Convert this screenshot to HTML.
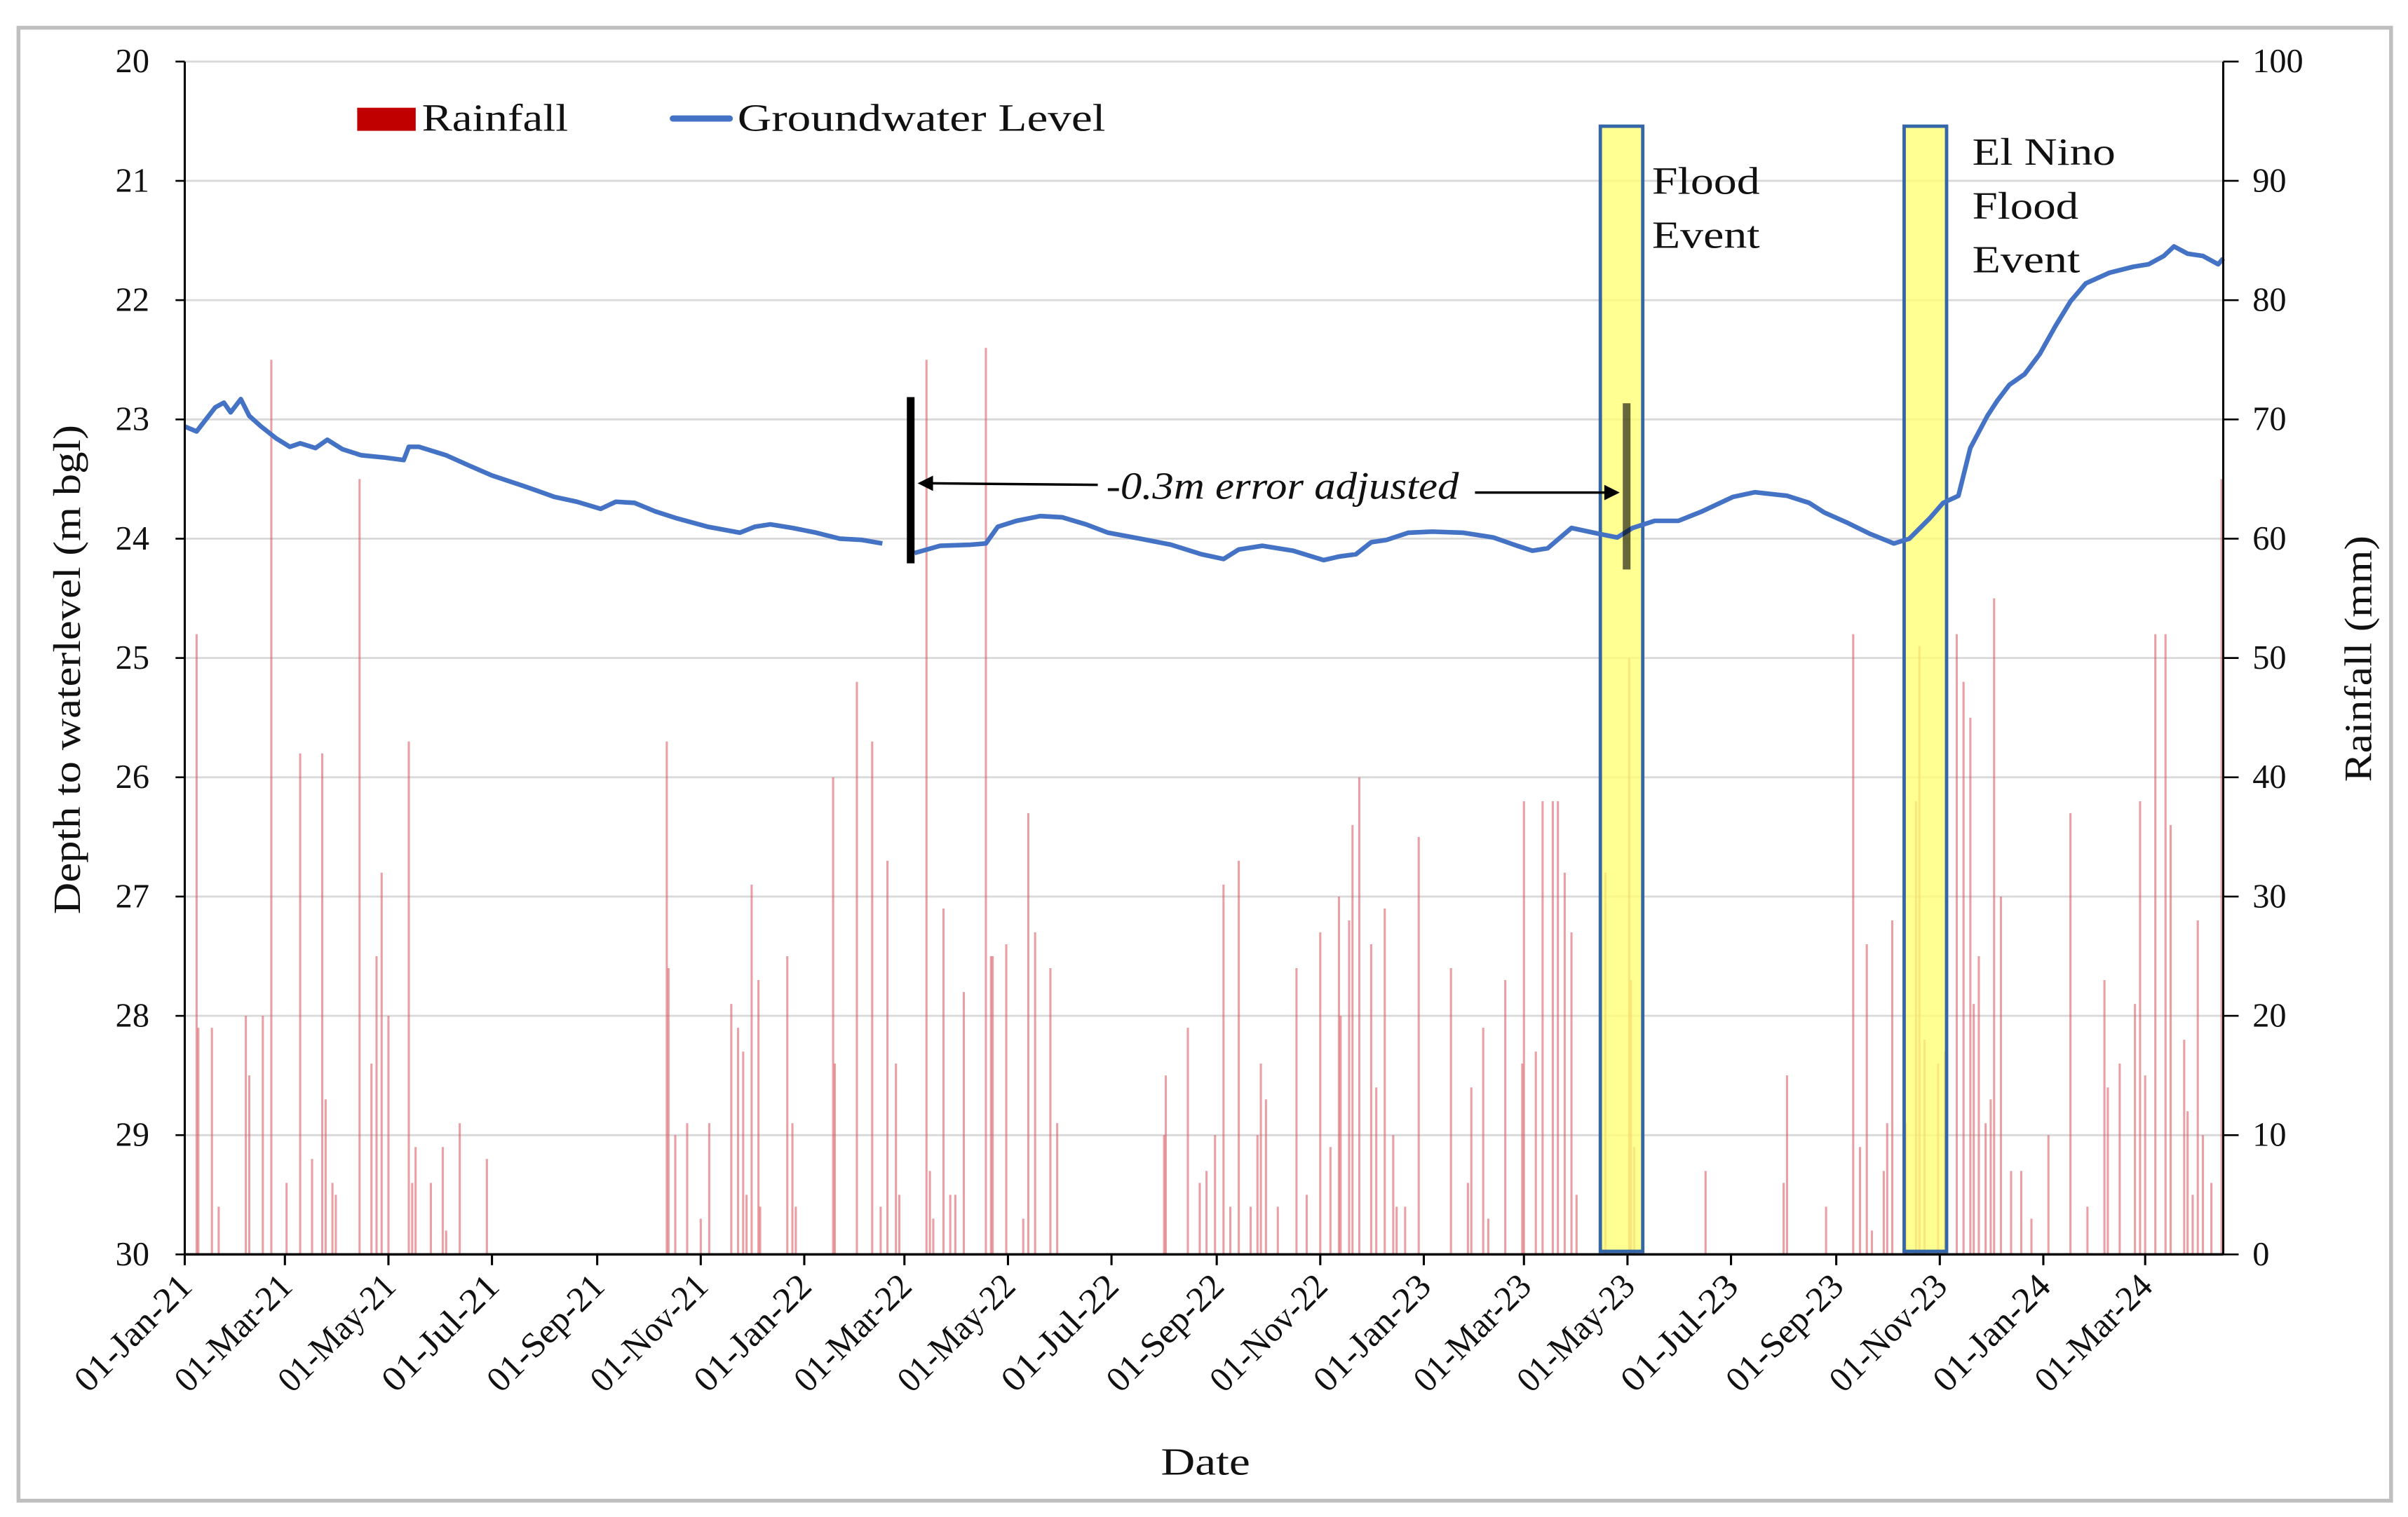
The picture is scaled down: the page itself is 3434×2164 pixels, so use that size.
<!DOCTYPE html>
<html><head><meta charset="utf-8"><style>
html,body{margin:0;padding:0;background:#fff}
svg{display:block}
text{font-family:"Liberation Serif",serif;fill:#111}
</style></head><body>
<svg id="chart" width="3434" height="2164" viewBox="0 0 1564 985.6" preserveAspectRatio="none" xmlns="http://www.w3.org/2000/svg">
<rect x="12" y="18" width="1541" height="957" fill="#fff" stroke="#bfbfbf" stroke-width="2.5"/>
<g id="grid"></g>
<g id="rain"></g>
<g id="boxes"></g>
<g id="gw"></g>
<g id="axes"></g>
<g id="annot"></g>
</svg>
<script>
// Days since 01-Jan-2021 and depth (m bgl)
const gwDays=[0,7,18,23,27,33,38,45,54,62,68,77,84,93,104,118,129,132,138,154,168,181,200,218,231,245,254,265,277,290,308,327,336,345,358,372,386,399,411,
430,445,463,472,479,490,504,517,531,544,563,581,599,612,621,635,653,671,680,690,699,708,721,735,753,771,785,794,803,817,830,844,853,866,880,894,912,925,944,957,966,980,993,1007,1016,1028,1036,1045,1052,1062,1068,1075,1084,1093,1102,1111,1120,1134,1148,1157,1166,1172,1180,1189,1198,1201];
const gwDepth=[23.06,23.10,22.90,22.86,22.94,22.83,22.97,23.06,23.16,23.23,23.20,23.24,23.17,23.25,23.30,23.32,23.34,23.23,23.23,23.30,23.39,23.47,23.56,23.65,23.69,23.75,23.69,23.70,23.77,23.83,23.90,23.95,23.90,23.88,23.91,23.95,24.00,24.01,24.04,
24.12,24.06,24.05,24.04,23.90,23.85,23.81,23.82,23.88,23.95,24.00,24.05,24.13,24.17,24.09,24.06,24.10,24.18,24.15,24.13,24.03,24.01,23.95,23.94,23.95,23.99,24.06,24.10,24.08,23.91,23.95,23.99,23.91,23.85,23.85,23.77,23.65,23.61,23.64,23.70,23.78,23.87,23.96,24.04,24.00,23.83,23.70,23.64,23.24,22.97,22.84,22.71,22.62,22.45,22.22,22.01,21.86,21.77,21.72,21.70,21.63,21.55,21.61,21.63,21.70,21.65];
const gwBreakAfter=38;
const rainDays=[7,8,16,20,36,38,46,51,60,68,75,81,83,87,89,103,110,113,116,120,132,134,136,145,152,154,162,178,284,285,289,296,304,309,322,326,329,331,334,338,339,355,358,360,382,383,396,405,410,414,419,421,437,439,441,447,451,454,459,472,475,476,484,494,497,501,510,514,577,578,591,598,602,607,612,616,621,628,632,634,637,644,655,661,669,675,680,681,686,688,692,699,702,707,712,714,719,727,746,756,758,765,768,778,788,789,796,800,806,809,813,817,820,837,851,852,854,896,942,944,967,983,987,991,994,1001,1003,1006,1014,1020,1022,1025,1033,1037,1044,1048,1052,1054,1057,1061,1064,1066,1070,1076,1082,1088,1098,1111,1121,1131,1133,1140,1149,1152,1155,1161,1167,1170,1178,1180,1183,1186,1189,1194,1200];
const rainMm=[52,19,19,4,20,15,20,75,6,42,8,42,13,6,5,65,16,25,32,20,43,6,9,6,9,2,11,8,43,24,10,11,3,11,21,19,17,5,31,23,4,25,11,4,40,16,48,43,4,33,16,5,75,7,3,29,5,5,22,76,25,25,26,3,37,27,24,11,10,15,19,6,7,10,31,4,33,4,10,16,13,4,24,5,27,9,30,20,28,36,40,26,14,29,10,4,4,35,24,6,14,19,3,23,16,38,17,38,38,38,32,27,5,32,50,23,9,7,6,15,4,52,9,26,2,7,11,28,11,38,51,18,16,17,52,48,45,21,25,11,13,55,30,7,7,3,10,37,4,23,14,16,21,38,15,52,52,36,18,12,5,28,10,6,65];
const depthTicks=[20,21,22,23,24,25,26,27,28,29,30];
const rainTicks=[100,90,80,70,60,50,40,30,20,10,0];
const dateLabels=["01-Jan-21","01-Mar-21","01-May-21","01-Jul-21","01-Sep-21","01-Nov-21","01-Jan-22","01-Mar-22","01-May-22","01-Jul-22","01-Sep-22","01-Nov-22","01-Jan-23","01-Mar-23","01-May-23","01-Jul-23","01-Sep-23","01-Nov-23","01-Jan-24","01-Mar-24"];
const dateTickDays=[0,59,120,181,243,304,365,424,485,546,608,669,730,789,850,911,973,1034,1095,1155];
const floodDays=[[834,859],[1013,1038]];

const X0=120,X1=1444,Y0=40,Y1=815,DMAX=1201;
const NS="http://www.w3.org/2000/svg";
const xS=d=>X0+d*(X1-X0)/DMAX;
const yD=v=>Y0+(v-20)*(Y1-Y0)/10;
const yR=v=>Y1-v*(Y1-Y0)/100;
function mk(tag,attrs,parent,txt){const e=document.createElementNS(NS,tag);for(const k in attrs)e.setAttribute(k,attrs[k]);if(txt!==undefined)e.textContent=txt;parent.appendChild(e);return e;}
const G=id=>document.getElementById(id);

depthTicks.forEach((t,i)=>{
  const y=yD(t);
  const gl=mk('line',{x1:X0,x2:X1,y1:y,y2:y,stroke:'#d9d9d9','stroke-width':1.3},G('grid'));
  
  
  mk('line',{x1:X0-6,x2:X0,y1:y,y2:y,stroke:'#000','stroke-width':1.2},G('axes'));
  const lt=mk('text',{x:97,y:y+7,'text-anchor':'end','font-size':22},G('axes'),String(t));
  
  
  mk('line',{x1:X1,x2:X1+10,y1:y,y2:y,stroke:'#000','stroke-width':1.2},G('axes'));
  const rt=mk('text',{x:1463,y:y+7,'text-anchor':'start','font-size':22},G('axes'),String(rainTicks[i]));
  
  
});

rainDays.forEach((d,i)=>{
  const x=xS(d);
  const b=mk('line',{x1:x,x2:x,y1:Y1,y2:yR(rainMm[i]),stroke:'#d8505a','stroke-opacity':0.55,'stroke-width':1.4},G('rain'));
  
  
});

floodDays.forEach((f,i)=>{
  const r=mk('rect',{x:xS(f[0]),y:82,width:xS(f[1])-xS(f[0]),height:Y1-82-2,fill:'#ffff6e','fill-opacity':0.75,stroke:'#3567a8','stroke-width':2.2},G('boxes'));
  
  
});

function path(a,b){let s='';for(let i=a;i<=b;i++)s+=(i===a?'M':'L')+xS(gwDays[i]).toFixed(1)+','+yD(gwDepth[i]).toFixed(1);return s;}
const p1=mk('path',{d:path(0,gwBreakAfter),fill:'none',stroke:'#4472c4','stroke-width':3,'stroke-linejoin':'round'},G('gw'));


const p2=mk('path',{d:path(gwBreakAfter+1,gwDays.length-1),fill:'none',stroke:'#4472c4','stroke-width':3,'stroke-linejoin':'round'},G('gw'));



mk('line',{x1:X0,x2:X0,y1:Y0,y2:Y1,stroke:'#000','stroke-width':1.4},G('axes'));
mk('line',{x1:X1,x2:X1,y1:Y0,y2:Y1,stroke:'#000','stroke-width':1.4},G('axes'));
mk('line',{x1:X0,x2:X1,y1:Y1,y2:Y1,stroke:'#000','stroke-width':1.6},G('axes'));
dateTickDays.forEach((d,i)=>{
  const x=xS(d);
  mk('line',{x1:x,x2:x,y1:Y1,y2:Y1+7,stroke:'#000','stroke-width':1.4},G('axes'));
  const t=mk('text',{x:x+6,y:Y1+22,'text-anchor':'end','font-size':23,textLength:97,lengthAdjust:'spacingAndGlyphs',transform:`rotate(-45 ${x+6} ${Y1+22})`},G('axes'),dateLabels[i]);
  
  
});
</script>
<svg style="position:absolute;left:0;top:0" width="3434" height="2164" viewBox="0 0 1564 985.6" preserveAspectRatio="none" xmlns="http://www.w3.org/2000/svg">
<text x="0" y="0" transform="translate(52 435) rotate(-90)" text-anchor="middle" font-size="25" textLength="318" lengthAdjust="spacingAndGlyphs" style="font-family:'Liberation Serif',serif">Depth to waterlevel (m bgl)</text>
<text x="0" y="0" transform="translate(1540 428) rotate(-90)" text-anchor="middle" font-size="25" textLength="160" lengthAdjust="spacingAndGlyphs" style="font-family:'Liberation Serif',serif">Rainfall (mm)</text>
<text x="783" y="958" text-anchor="middle" font-size="25" textLength="58" lengthAdjust="spacingAndGlyphs" style="font-family:'Liberation Serif',serif">Date</text>
<g>
<rect x="232" y="70" width="38" height="15" fill="#c00000"/>
<text x="274" y="85" font-size="25" textLength="95" lengthAdjust="spacingAndGlyphs" style="font-family:'Liberation Serif',serif">Rainfall</text>
<line x1="437" x2="474" y1="77" y2="77" stroke="#4472c4" stroke-width="4" stroke-linecap="round"/>
<text x="479" y="85" font-size="25" textLength="239" lengthAdjust="spacingAndGlyphs" style="font-family:'Liberation Serif',serif">Groundwater Level</text>
</g>
<text font-size="25" style="font-family:'Liberation Serif',serif"><tspan x="1073" y="126" textLength="70" lengthAdjust="spacingAndGlyphs">Flood</tspan><tspan x="1073" y="161" textLength="70" lengthAdjust="spacingAndGlyphs">Event</tspan></text>
<text font-size="25" style="font-family:'Liberation Serif',serif"><tspan x="1281" y="107" textLength="93" lengthAdjust="spacingAndGlyphs">El Nino</tspan><tspan x="1281" y="142" textLength="69" lengthAdjust="spacingAndGlyphs">Flood</tspan><tspan x="1281" y="177" textLength="70" lengthAdjust="spacingAndGlyphs">Event</tspan></text>
<rect x="589" y="258" width="5" height="108" fill="#000"/>
<rect x="1054" y="262" width="5" height="108" fill="#000" fill-opacity="0.6"/>
<text x="833" y="324" text-anchor="middle" font-size="25" font-style="italic" textLength="229" lengthAdjust="spacingAndGlyphs" style="font-family:'Liberation Serif',serif">-0.3m error adjusted</text>
<line x1="713" y1="315" x2="604" y2="314" stroke="#000" stroke-width="1.6"/>
<polygon points="596,314 606,309 606,319" fill="#000"/>
<line x1="958" y1="320" x2="1043" y2="320" stroke="#000" stroke-width="1.6"/>
<polygon points="1052,320 1042,315 1042,325" fill="#000"/>
</svg>
</body></html>
